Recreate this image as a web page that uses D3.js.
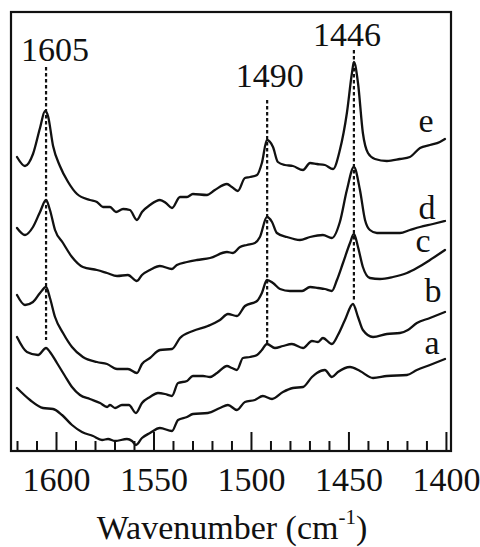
<!DOCTYPE html>
<html>
<head>
<meta charset="utf-8">
<script src="https://cdn.jsdelivr.net/npm/d3@7"></script>
<style>
  html, body { margin: 0; padding: 0; background: #fff; }
  svg { display: block; }
  text { font-family: "Liberation Serif", "DejaVu Serif", serif; fill: #111; }
</style>
</head>
<body>
<svg id="chart" width="480" height="547"></svg>
<script>
// ---------- data ----------
const xMajorTicks = [1600, 1550, 1500, 1450, 1400];
const xMinorTicks = [1620, 1610, 1590, 1580, 1570, 1560, 1540, 1530, 1520, 1510,
                     1490, 1480, 1470, 1460, 1440, 1430, 1420, 1410];
const seriesNames = ["a", "b", "c", "d", "e"];
const peakPositions = [1605.1, 1491.7, 1447.2];
const peakLabels = ["1605", "1490", "1446"];

const eWn = [1620.0,1615.9,1611.8,1608.2,1605.6,1604.1,1601.5,1598.0,1593.8,1589.2,1582.6,1579.0,1575.9,1572.3,1569.2,1565.6,1562.1,1558.5,1555.9,1551.8,1546.7,1543.6,1540.5,1536.4,1532.8,1529.8,1522.6,1518.5,1512.3,1509.8,1506.7,1503.1,1500.5,1496.9,1494.4,1491.8,1488.7,1486.2,1482.6,1478.5,1473.3,1469.7,1466.2,1462.1,1457.9,1454.4,1450.8,1448.2,1447.2,1445.1,1442.6,1440.0,1436.4,1430.3,1423.6,1418.5,1413.3,1408.2,1403.1,1400.5];
const eAbs = [294,285,297,323,340,335,305,285,269,257,251,249,244,244,239,242,241,231,239,246,251,248,243,254,254,257,256,261,267,264,260,273,274,276,288,311,304,289,286,285,281,288,287,286,282,301,338,378,389,368,318,298,292,290,292,294,303,306,309,312];

const dWn = [1620.0,1615.9,1611.8,1608.2,1605.1,1603.1,1600.5,1596.4,1591.8,1586.2,1579.0,1573.8,1568.7,1563.1,1558.5,1555.9,1551.8,1546.7,1540.5,1538.0,1532.8,1527.7,1521.0,1512.3,1509.2,1505.6,1502.1,1498.0,1495.4,1491.8,1489.2,1486.7,1481.5,1474.9,1469.7,1463.1,1458.5,1454.4,1450.8,1447.2,1444.1,1441.5,1439.0,1435.4,1423.6,1418.5,1413.3,1406.7,1400.5];
const dAbs = [223,216,224,239,251,241,221,208,194,184,181,178,175,176,170,176,181,185,182,186,189,191,193,199,198,204,206,208,214,234,229,218,214,211,214,216,213,229,261,284,261,231,221,218,218,221,224,227,230];

const cWn = [1620.0,1615.9,1611.8,1608.2,1605.1,1603.1,1600.5,1596.4,1591.8,1586.2,1579.0,1573.8,1568.7,1563.1,1558.5,1555.9,1551.8,1546.7,1540.5,1536.4,1529.8,1522.1,1515.9,1511.8,1507.2,1503.1,1496.9,1494.4,1491.8,1488.7,1485.1,1480.0,1473.8,1469.7,1465.6,1462.1,1458.5,1455.9,1452.8,1449.2,1447.2,1445.1,1442.6,1439.0,1433.8,1427.2,1420.0,1414.9,1408.2,1400.5];
const cAbs = [156,146,149,158,164,153,134,118,104,94,89,87,82,82,78,87,93,101,102,113,120,125,131,137,135,145,150,158,171,168,162,160,160,164,163,162,160,171,188,208,217,204,184,173,172,174,178,183,191,201];

const bWn = [1620.0,1614.9,1609.2,1605.1,1603.1,1599.5,1595.4,1591.8,1587.7,1582.6,1577.4,1573.8,1572.3,1569.7,1566.2,1562.6,1559.0,1555.9,1551.8,1547.7,1544.1,1540.5,1537.4,1532.8,1529.8,1524.6,1521.0,1517.4,1512.3,1509.8,1507.2,1504.1,1500.5,1496.9,1494.4,1491.8,1487.7,1483.6,1479.0,1473.3,1468.7,1465.6,1463.1,1458.5,1455.4,1451.8,1447.7,1445.1,1442.6,1437.4,1430.3,1423.6,1419.5,1414.9,1408.2,1400.5];
const bAbs = [114,99,96,103,99,88,75,64,56,52,48,44,46,43,46,46,38,48,54,58,57,55,68,70,75,75,74,78,85,83,81,93,94,96,101,107,103,105,107,103,110,109,113,107,116,131,147,134,121,114,117,118,121,128,133,139];

const aWn = [1620.0,1613.3,1606.7,1601.5,1596.9,1591.8,1586.7,1581.0,1576.4,1573.3,1569.7,1563.6,1561.0,1559.0,1555.9,1551.8,1546.7,1540.5,1537.4,1532.8,1529.8,1522.1,1515.9,1511.8,1507.2,1503.1,1498.0,1493.9,1489.2,1483.6,1478.5,1473.3,1468.7,1466.2,1462.1,1458.5,1455.4,1449.2,1444.1,1437.4,1430.3,1420.0,1414.9,1408.2,1400.5];
const aAbs = [63,51,43,42,36,26,19,15,11,12,10,12,10,6,13,18,23,20,31,34,37,38,43,46,41,49,51,55,52,59,63,64,74,78,81,74,79,84,80,73,75,76,81,86,92];

(function () {
  // ---------- layout ----------
  const svg = d3.select("#chart");
  const W = 480, H = 547;
  const mLeft = 11, mRight = 451, mTop = 12, mBottom = 451;
  const FONT = 34;

  svg.append("rect").attr("width", W).attr("height", H).attr("fill", "#fff");

  const x = d3.scaleLinear().domain([1623.08, 1397.4]).range([mLeft, mRight]);
  const y = d3.scaleLinear().domain([0, 439]).range([mBottom, mTop]);

  const series = {
    a: aWn.map((w, i) => ({w, v: aAbs[i]})),
    b: bWn.map((w, i) => ({w, v: bAbs[i]})),
    c: cWn.map((w, i) => ({w, v: cAbs[i]})),
    d: dWn.map((w, i) => ({w, v: dAbs[i]})),
    e: eWn.map((w, i) => ({w, v: eAbs[i]}))
  };

  // dotted guide lines (drawn beneath curves)
  const guideTop = [384, 351, 401];
  const guideBottom = [111, 108, 149];
  const labelBase = [390, 364, 405];
  const labelDx = [9, 2.5, -7];

  svg.append("g").selectAll("line").data(peakPositions).join("line")
    .attr("x1", d => x(d)).attr("x2", d => x(d))
    .attr("y1", (d, i) => y(guideTop[i])).attr("y2", (d, i) => y(guideBottom[i]))
    .attr("stroke", "#111").attr("stroke-width", 2.2)
    .attr("stroke-dasharray", "3.5,2.5");

  svg.append("g").selectAll("text").data(peakLabels).join("text")
    .attr("x", (d, i) => x(peakPositions[i]) + labelDx[i])
    .attr("y", (d, i) => y(labelBase[i]))
    .attr("text-anchor", "middle")
    .attr("font-size", FONT)
    .text(d => d);

  // spectra
  const line = d3.line().x(d => x(d.w)).y(d => y(d.v)).curve(d3.curveMonotoneX);
  svg.append("g").selectAll("path").data(seriesNames).join("path")
    .attr("d", n => line(series[n]))
    .attr("fill", "none").attr("stroke", "#111")
    .attr("stroke-width", 2.3).attr("stroke-linejoin", "round").attr("stroke-linecap", "round");

  // series labels
  const seriesLabelPos = { a: [432, 354], b: [433, 302], c: [423, 252], d: [427, 219], e: [426, 132] };
  svg.append("g").selectAll("text").data(seriesNames).join("text")
    .attr("x", n => seriesLabelPos[n][0])
    .attr("y", n => seriesLabelPos[n][1])
    .attr("text-anchor", "middle")
    .attr("font-size", FONT)
    .text(n => n);

  // axes: ticks inward
  const axisG = svg.append("g").attr("transform", `translate(0,${mBottom})`);
  axisG.call(d3.axisBottom(x).tickValues(xMajorTicks).tickSize(-19).tickPadding(16).tickFormat(d3.format("d")));
  const minorG = svg.append("g").attr("transform", `translate(0,${mBottom})`);
  minorG.call(d3.axisBottom(x).tickValues(xMinorTicks).tickSize(-10).tickFormat(""));
  [axisG, minorG].forEach(g => {
    g.select(".domain").remove();
    g.selectAll(".tick line").attr("stroke", "#111").attr("stroke-width", 2);
  });
  axisG.selectAll(".tick text")
    .attr("font-size", FONT).attr("fill", "#111")
    .attr("font-family", "Liberation Serif, serif");

  // frame
  svg.append("rect")
    .attr("x", mLeft).attr("y", mTop)
    .attr("width", mRight - mLeft).attr("height", mBottom - mTop)
    .attr("fill", "none").attr("stroke", "#111").attr("stroke-width", 2.2);

  // axis title
  const title = svg.append("text")
    .attr("x", 232).attr("y", 539)
    .attr("text-anchor", "middle")
    .attr("font-size", FONT);
  title.append("tspan").text("Wavenumber (cm");
  title.append("tspan").attr("font-size", 21).attr("dy", -15).text("-1");
  title.append("tspan").attr("dy", 15).text(")");
})();
</script>
</body>
</html>
